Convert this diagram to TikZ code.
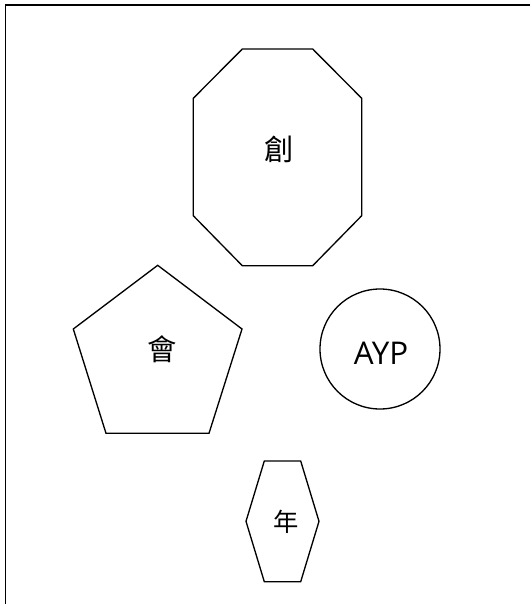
\documentclass[tikz,border=0pt]{standalone}
\usepackage{fontspec}
\setmainfont{Open Sans}
\newfontfamily\cjkfont{Noto Sans CJK TC}
\begin{document}
\begin{tikzpicture}[x=0.75pt,y=-0.75pt,
  outline/.style={draw=black,line width=1pt,line join=miter},
  cjklabel/.style={inner sep=0pt,font=\cjkfont\fontsize{22pt}{26pt}\selectfont},
  latinlabel/.style={inner sep=0pt,font=\fontsize{23.5pt}{28pt}\selectfont}]
\useasboundingbox (0,0) rectangle (530,604);
% frame
\coordinate (fbl) at (5.7,604);
\coordinate (ftl) at (5.7,5);
\coordinate (ftr) at (530,5);
\draw[line width=1pt] (fbl) -- (ftl) -- (ftr);
% octagon
\draw[outline] (242.3,49) -- (312.7,49) -- (361.7,98.3) -- (361.7,215.7) -- (312.7,265.7) -- (242.3,265.7) -- (193.3,215.7) -- (193.3,98.3) -- cycle;
\node[cjklabel] (oct) at (278.7,149.7) {創};
% pentagon
\draw[outline] (157.7,265.3) -- (242,329) -- (209,433.3) -- (106,433.3) -- (73.3,329) -- cycle;
\node[cjklabel] (pent) at (161.7,349.7) {會};
% circle
\node[circle,outline,minimum size=90pt,inner sep=0pt] (circ) at (380,349) {};
\node[latinlabel] (ayp) at (381,353) {AYP};
% hexagon
\draw[outline] (264.3,461) -- (300.7,461) -- (319,521.3) -- (300.7,581.7) -- (264.3,581.7) -- (246,521.3) -- cycle;
\node[cjklabel,font=\cjkfont\fontsize{19pt}{23pt}\selectfont] (hex) at (285.7,521.7) {年};
\end{tikzpicture}
\end{document}
